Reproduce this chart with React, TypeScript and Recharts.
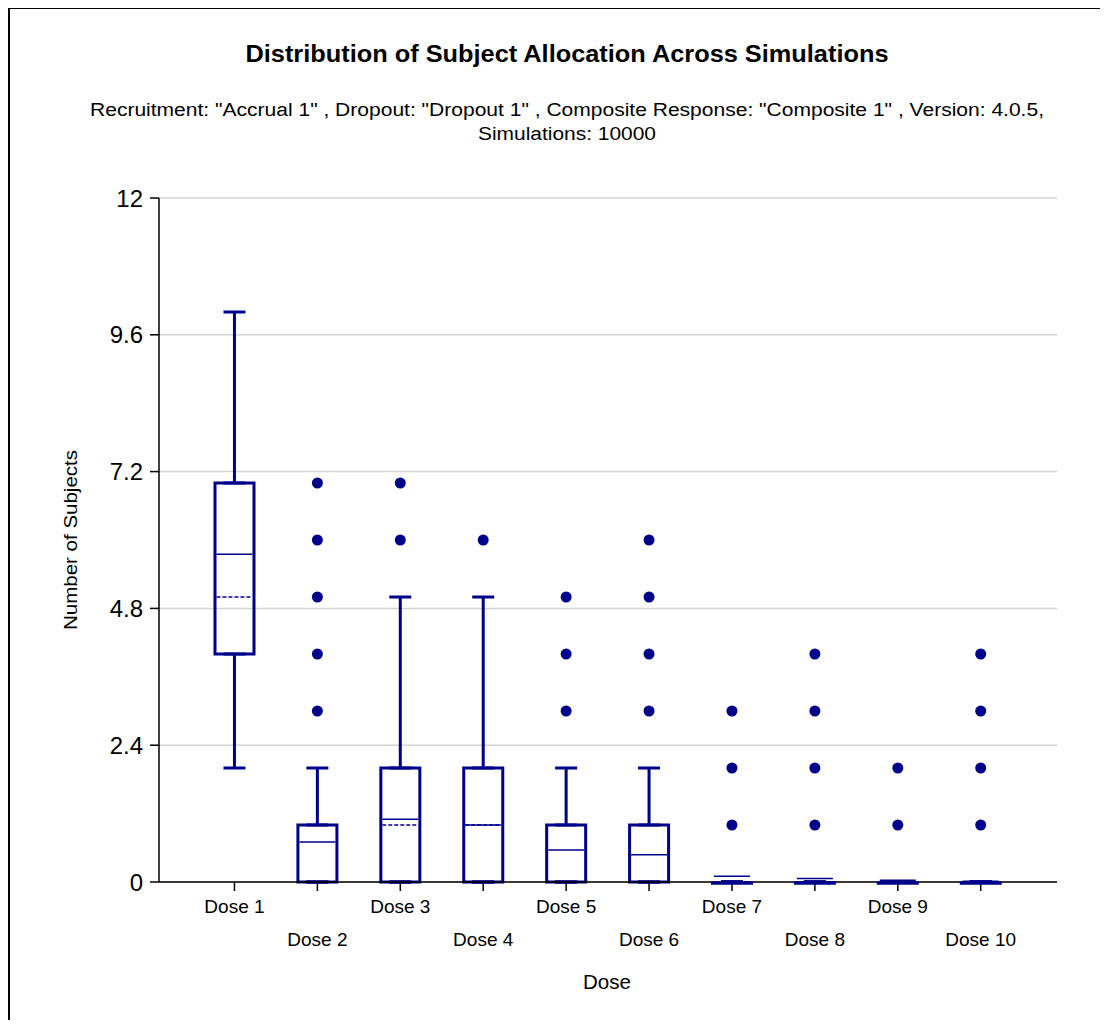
import React from 'react';
import {
  ComposedChart,
  Bar,
  Scatter,
  ErrorBar,
  XAxis,
  YAxis,
  CartesianGrid,
} from 'recharts';

// ---- data ----
const doseIndex = [1, 2, 3, 4, 5, 6, 7, 8, 9, 10];
const doseNames = ['Dose 1', 'Dose 2', 'Dose 3', 'Dose 4', 'Dose 5', 'Dose 6', 'Dose 7', 'Dose 8', 'Dose 9', 'Dose 10'];
const whiskerLow = [2, 0, 0, 0, 0, 0, 0, 0, 0, 0];
const q1Values = [4, 0, 0, 0, 0, 0, 0, 0, 0, 0];
const medianValues = [5, 1, 1, 1, 1, 1, 0, 0, 0, 0];
const meanValues = [5.75, 0.7, 1.1, 1.0, 0.56, 0.48, 0.1, 0.06, 0.03, 0.015];
const q3Values = [7, 1, 2, 2, 1, 1, 0, 0, 0, 0];
const whiskerHigh = [10, 2, 5, 5, 2, 2, 0, 0, 0, 0];
const outlierValues = [
  [],
  [3, 4, 5, 6, 7],
  [6, 7],
  [6],
  [3, 4, 5],
  [3, 4, 5, 6],
  [1, 2, 3],
  [1, 2, 3, 4],
  [1, 2],
  [1, 2, 3, 4],
];
const yTicks = [0, 2.4, 4.8, 7.2, 9.6, 12];

const title = 'Distribution of Subject Allocation Across Simulations';
const subtitle1 = 'Recruitment: "Accrual 1" , Dropout: "Dropout 1" , Composite Response: "Composite 1" , Version: 4.0.5,';
const subtitle2 = 'Simulations: 10000';
const xTitle = 'Dose';
const yTitle = 'Number of Subjects';

// ---- tables built from the arrays ----
const boxData = doseIndex.map((x, i) => ({
  x,
  name: doseNames[i],
  min: whiskerLow[i],
  q1: q1Values[i],
  median: medianValues[i],
  mean: meanValues[i],
  q3: q3Values[i],
  max: whiskerHigh[i],
}));

const outlierData = doseIndex.flatMap((x, i) =>
  outlierValues[i].map((v) => ({ x, value: v }))
);

const NAVY = '#00008B';
const FONT = '"Liberation Sans", Arial, sans-serif';
const BOX_W = 39;
const W = 1090;
const H = 1012;

const BoxShape = (props: any) => {
  const { x, y, width, height } = props;
  if (x == null || y == null) return <g />;
  return (
    <rect
      x={x}
      y={y}
      width={width}
      height={Math.max(0, height || 0)}
      fill="none"
      stroke={NAVY}
      strokeWidth={3}
    />
  );
};

// box whose quartiles coincide: drawn as a flat outline
const FlatBoxShape = (props: any) => {
  const { cx, cy, payload } = props;
  if (!payload || payload.q1 !== payload.q3) return <g />;
  return (
    <line
      x1={cx - BOX_W / 2 - 1.5}
      x2={cx + BOX_W / 2 + 1.5}
      y1={cy + 1}
      y2={cy + 1}
      stroke={NAVY}
      strokeWidth={3.5}
    />
  );
};

const MeanShape = (props: any) => {
  const { cx, cy } = props;
  return <line x1={cx - 18} x2={cx + 18} y1={cy} y2={cy} stroke={NAVY} strokeWidth={1.5} />;
};

const MedianShape = (props: any) => {
  const { cx, cy } = props;
  return (
    <line
      x1={cx - 18}
      x2={cx + 18}
      y1={cy}
      y2={cy}
      stroke={NAVY}
      strokeWidth={1.5}
      strokeDasharray="4 2"
    />
  );
};

const OutlierShape = (props: any) => {
  const { cx, cy } = props;
  return <circle cx={cx} cy={cy} r={5.5} fill={NAVY} />;
};

const Hidden = () => <g />;

const DoseTick = (props: any) => {
  const { x, y, payload } = props;
  const lower = payload.value % 2 === 0;
  return (
    <text
      x={x}
      y={y + (lower ? 55 : 22)}
      textAnchor="middle"
      fontSize={19}
      fontFamily={FONT}
      fill="#000"
    >
      {`Dose ${payload.value}`}
    </text>
  );
};

export default function App() {
  return (
    <div style={{ position: 'relative', width: W, height: H, background: '#fff' }}>
      <style>{'html,body{overflow:hidden}'}</style>
      <div style={{ position: 'absolute', left: 0, top: -1, width: 1100, height: 2, background: '#000' }} />
      <div style={{ position: 'absolute', left: 0, top: -1, width: 2, height: 1021, background: '#000' }} />
      <ComposedChart
        width={W}
        height={H}
        data={boxData}
        margin={{ top: 190, right: W - 1049, left: 0, bottom: 0 }}
      >
        <CartesianGrid vertical={false} stroke="#d4d4d4" strokeWidth={1.5} />
        <XAxis
          dataKey="x"
          type="number"
          domain={[0.09, 10.92]}
          ticks={doseIndex}
          allowDataOverflow
          height={H - 874}
          tickSize={9}
          tickMargin={0}
          stroke="#000"
          axisLine={{ stroke: '#000', strokeWidth: 1.5 }}
          tickLine={{ stroke: '#000', strokeWidth: 1.5 }}
          tick={<DoseTick />}
          interval={0}
        />
        <YAxis
          type="number"
          domain={[0, 12]}
          ticks={yTicks}
          width={151}
          tickSize={9}
          tickMargin={7}
          interval={0}
          axisLine={{ stroke: '#000', strokeWidth: 1.5 }}
          tickLine={{ stroke: '#000', strokeWidth: 1.5 }}
          tick={{ fill: '#000', fontSize: 24, fontFamily: FONT }}
          tickFormatter={(v: number) => String(v)}
        />
        <Bar
          dataKey={(d: any) => [d.q1, d.q3]}
          barSize={BOX_W}
          shape={<BoxShape />}
          isAnimationActive={false}
        />
        <Scatter dataKey="q3" shape={<Hidden />} isAnimationActive={false}>
          <ErrorBar
            dataKey={(d: any) => [0, d.max - d.q3]}
            direction="y"
            width={11}
            stroke={NAVY}
            strokeWidth={3}
            isAnimationActive={false}
          />
        </Scatter>
        <Scatter dataKey="q1" shape={<FlatBoxShape />} isAnimationActive={false}>
          <ErrorBar
            dataKey={(d: any) => [d.q1 - d.min, 0]}
            direction="y"
            width={11}
            stroke={NAVY}
            strokeWidth={3}
            isAnimationActive={false}
          />
        </Scatter>
        <Scatter dataKey="median" shape={<MedianShape />} isAnimationActive={false} />
        <Scatter dataKey="mean" shape={<MeanShape />} isAnimationActive={false} />
        <Scatter data={outlierData} dataKey="value" shape={<OutlierShape />} isAnimationActive={false} />
      </ComposedChart>
      <svg
        width={W}
        height={H}
        style={{ position: 'absolute', left: 0, top: 0, pointerEvents: 'none' }}
      >
        <text x={559} y={54} textAnchor="middle" fontSize={23} fontWeight="bold" fontFamily={FONT} fill="#000"
          textLength={643} lengthAdjust="spacingAndGlyphs">
          {title}
        </text>
        <text x={559} y={108} textAnchor="middle" fontSize={18} fontFamily={FONT} fill="#000"
          textLength={954} lengthAdjust="spacingAndGlyphs">
          {subtitle1}
        </text>
        <text x={559} y={132} textAnchor="middle" fontSize={18} fontFamily={FONT} fill="#000"
          textLength={178} lengthAdjust="spacingAndGlyphs">
          {subtitle2}
        </text>
        <text x={599} y={981} textAnchor="middle" fontSize={20} fontFamily={FONT} fill="#000"
          textLength={48} lengthAdjust="spacingAndGlyphs">
          {xTitle}
        </text>
        <text
          x={69}
          y={532}
          textAnchor="middle"
          fontSize={19}
          fontFamily={FONT}
          fill="#000"
          textLength={180}
          lengthAdjust="spacingAndGlyphs"
          transform="rotate(-90, 69, 532)"
        >
          {yTitle}
        </text>
      </svg>
    </div>
  );
}
